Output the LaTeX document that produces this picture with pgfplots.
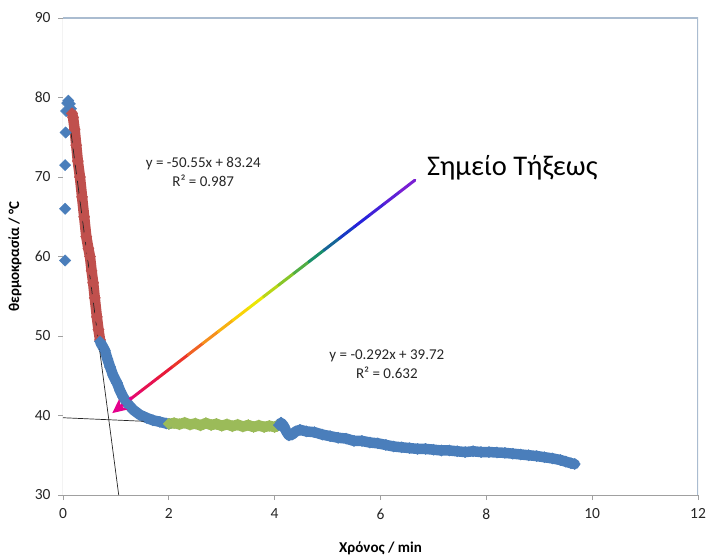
\documentclass[border=0pt]{standalone}
\usepackage{fontspec}
\setmainfont{Carlito}
\usepackage{pgfplots}
\pgfplotsset{compat=1.18}
\usetikzlibrary{arrows.meta}
\definecolor{xblue}{RGB}{74,126,187}
\definecolor{xred}{RGB}{192,80,77}
\definecolor{xgreen}{RGB}{155,187,89}
\definecolor{axgray}{RGB}{160,160,160}
\definecolor{boxblue}{RGB}{170,188,208}
\definecolor{arrmag}{RGB}{228,0,140}
\pgfplotsset{colormap={arrowmap}{rgb255(0)=(228,0,140) rgb255(20)=(232,30,45) rgb255(32)=(245,140,30) rgb255(46)=(250,235,0) rgb255(60)=(110,190,50) rgb255(68)=(20,140,110) rgb255(80)=(25,35,220) rgb255(100)=(135,30,210)}}
\pgfplotsset{band/.style={#1, line width=10.5pt, line join=round, line cap=round, mark=square*, mark size=4pt, mark options={rotate=45, line width=0.4pt, fill=#1}}}
\begin{document}
\begin{tikzpicture}
\path[use as bounding box] (-63pt,-60pt) rectangle (643pt,495pt);
\begin{axis}[
  at={(0pt,0pt)}, anchor=south west,
  scale only axis, width=635pt, height=477pt,
  xmin=0, xmax=12, ymin=30, ymax=90,
  xtick={0,2,...,12}, ytick={30,40,...,90},
  tick pos=left, tick align=outside,
  major tick length=5pt,
  tick style={axgray, line width=0.8pt},
  axis line style={draw=none},
  /pgf/number format/assume math mode=true,
  tick label style={font=\fontsize{15.5}{17}\selectfont, text=black!85},
  xticklabel style={yshift=-5pt},
  yticklabel style={xshift=-4pt},
  every axis x label/.style={at={(rel axis cs:0.5,0)}, yshift=-53pt, anchor=center},
  every axis y label/.style={at={(rel axis cs:0,0.5)}, xshift=-48pt, rotate=90, anchor=center},
  xlabel={\fontsize{15}{17}\selectfont\bfseries Χρόνος / min},
  ylabel={\fontsize{15}{17}\selectfont\bfseries θερμοκρασία / °C},
  clip=true,
]
\draw[axgray, line width=1pt] (rel axis cs:0,1) -- (rel axis cs:0,0) -- (rel axis cs:1,0);
\draw[boxblue, line width=1.5pt] (rel axis cs:0,1) -- (rel axis cs:1,1) -- (rel axis cs:1,0);
% initial blue diamonds
\addplot[only marks, mark=square*, mark size=4pt, mark options={rotate=45, fill=xblue, draw=xblue}] coordinates {
(0.04,59.5)(0.04,66.0)(0.04,71.5)(0.05,75.6)(0.06,78.3)(0.08,79.3)(0.10,79.6)(0.13,79.2)(0.15,78.6)
};
% red part
\addplot[band=xred] coordinates {
(0.17,78.0)(0.19,77.5)(0.22,76.0)(0.25,74.0)(0.28,72.0)(0.32,70.0)(0.36,67.5)(0.40,65.0)(0.44,62.5)(0.48,61.0)(0.51,60.0)(0.54,58.2)(0.57,56.7)(0.60,54.8)(0.64,52.4)(0.67,50.8)(0.70,49.5)
};
% blue middle
\addplot[band=xblue] coordinates {
(0.70,49.3)(0.74,48.8)(0.79,48.2)(0.84,47.1)(0.89,46.1)(0.95,45.0)(1.02,44.1)(1.08,43.1)(1.14,42.3)(1.22,41.5)(1.33,40.7)(1.45,40.1)(1.58,39.7)(1.70,39.4)(1.83,39.2)(1.95,39.0)(2.00,38.95)
};
% green part
\addplot[band=xgreen] coordinates {
(2.0,38.95)(2.1,39.05)(2.2,38.9)(2.3,39.1)(2.4,38.85)(2.5,39.0)(2.6,38.75)(2.7,39.05)(2.8,38.8)(2.9,38.95)(3.0,38.7)(3.1,38.9)(3.2,38.65)(3.3,38.85)(3.4,38.6)(3.5,38.8)(3.6,38.55)(3.7,38.75)(3.8,38.55)(3.9,38.7)(4.0,38.55)(4.05,38.7)
};
% blue tail
\addplot[band=xblue] coordinates {
(4.08,38.8)(4.12,39.1)(4.17,38.7)(4.22,38.0)(4.27,37.5)(4.33,37.6)(4.40,38.0)(4.48,38.2)(4.60,38.0)(4.75,37.9)(4.90,37.6)(5.05,37.4)(5.20,37.2)(5.35,37.1)(5.50,36.8)(5.65,36.8)(5.80,36.6)(5.95,36.5)(6.10,36.3)(6.25,36.1)(6.40,36.0)(6.55,35.9)(6.70,35.8)(6.85,35.8)(7.00,35.7)(7.15,35.6)(7.30,35.6)(7.45,35.5)(7.60,35.4)(7.75,35.5)(7.90,35.4)(8.05,35.4)(8.20,35.35)(8.35,35.3)(8.50,35.2)(8.65,35.1)(8.80,35.0)(8.95,34.9)(9.10,34.75)(9.25,34.6)(9.40,34.4)(9.50,34.2)(9.60,34.0)(9.67,33.9)
};
% trendlines
\addplot[black!85, line width=0.7pt] coordinates {(0.15,75.66)(1.053,30.0)};
\addplot[black!85, line width=0.7pt] coordinates {(0.0,39.72)(4.0,38.55)};
% gradient arrow
\addplot[mesh, colormap name=arrowmap, point meta=explicit, point meta min=0, point meta max=100, line width=3pt, line cap=round] table[meta=c] {
x y c
1.216 41.765 5
1.502 43.23 10
1.788 44.695 15
2.074 46.16 20
2.36 47.625 25
2.646 49.09 30
2.932 50.555 35
3.218 52.02 40
3.504 53.485 45
3.79 54.95 50
4.076 56.415 55
4.362 57.88 60
4.648 59.345 65
4.934 60.81 70
5.22 62.275 75
5.506 63.74 80
5.792 65.205 85
6.078 66.67 90
6.364 68.135 95
6.65 69.6 100
};
\draw[arrmag, line width=3pt, -{Stealth[length=14pt, width=13pt, inset=3pt]}] (axis cs:1.30,42.25) -- (axis cs:0.93,40.3);
% texts
\node[align=center, font=\fontsize{15}{19}\selectfont, text=black!85] at (axis cs:2.65,70.6) {y = -50.55x + 83.24\\R² = 0.987};
\node[align=center, font=\fontsize{15}{19}\selectfont, text=black!85] at (axis cs:6.12,46.5) {y = -0.292x + 39.72\\R² = 0.632};
\node[font=\fontsize{28.5}{31}\selectfont, text=black] at (axis cs:8.49,71.1) {Σημείο Τήξεως};
\end{axis}
\end{tikzpicture}
\end{document}
